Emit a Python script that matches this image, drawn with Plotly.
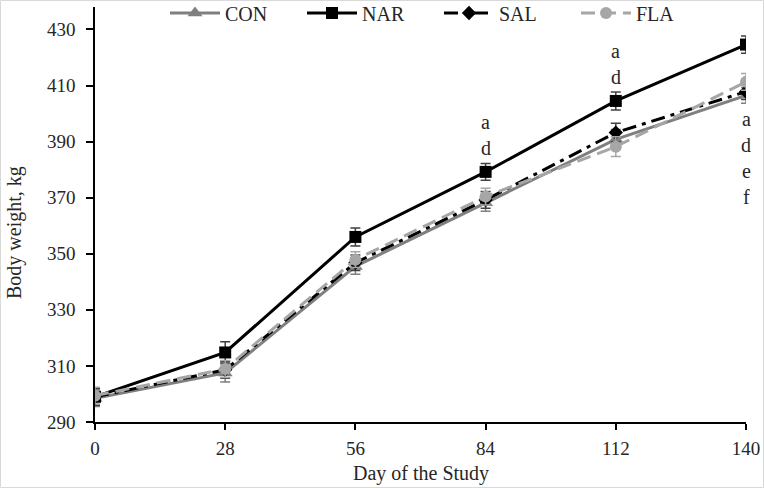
import plotly.graph_objects as go

days = [0, 28, 56, 84, 112, 140]
tick_labels = ["0", "28", "56", "84", "112", "140"]
CON = [298.5, 307.5, 345.5, 368.2, 390.8, 406.5]
NAR = [299.0, 314.8, 356.0, 379.2, 404.5, 424.6]
SAL = [299.0, 308.6, 346.8, 369.2, 393.2, 407.8]
FLA = [299.4, 308.9, 347.9, 370.4, 388.2, 411.3]
CON_se = [3.0, 3.2, 2.8, 3.0, 3.5, 2.8]
NAR_se = [3.0, 3.8, 3.2, 3.0, 3.2, 3.1]
SAL_se = [3.0, 3.0, 2.8, 3.0, 3.3, 2.8]
FLA_se = [3.0, 3.0, 2.8, 3.0, 3.5, 3.0]
# significance letters: day -> letters
sig_above = {84: ["a", "d"], 112: ["a", "d"]}
sig_below = {140: ["a", "d", "e", "f"]}

font_family = "Liberation Serif"
txt = "#262626"

fig = go.Figure()

def add(name, y, se, color, dash, symbol, msize, ecolor):
    fig.add_trace(go.Scatter(
        x=days, y=y, name=name, mode="lines+markers",
        line=dict(color=color, width=3, dash=dash),
        marker=dict(symbol=symbol, size=msize, color=color),
        error_y=dict(type="data", array=se, visible=True, color=ecolor,
                     thickness=1.5, width=5),
    ))

add("CON", CON, CON_se, "#7f7f7f", "solid", "triangle-up", 13, "#7f7f7f")
add("NAR", NAR, NAR_se, "#000000", "solid", "square", 12, "#404040")
add("SAL", SAL, SAL_se, "#000000", "14px,6px,4px,6px", "diamond", 11, "#404040")
add("FLA", FLA, FLA_se, "#a6a6a6", "14px,7px", "circle", 12, "#a6a6a6")

# annotations
for d, letters in sig_above.items():
    i = days.index(d)
    n = len(letters)
    for k, L in enumerate(letters):
        fig.add_annotation(x=d, y=NAR[i], text=L, showarrow=False,
                           yanchor="middle", yshift=24 + (n - 1 - k) * 26,
                           font=dict(family=font_family, size=20, color=txt))
for d, letters in sig_below.items():
    i = days.index(d)
    low = min(CON[i], SAL[i], FLA[i], NAR[i])
    for k, L in enumerate(letters):
        fig.add_annotation(x=d, y=low, text=L, showarrow=False,
                           yanchor="middle", yshift=-24 - k * 26,
                           font=dict(family=font_family, size=20, color=txt))

W, H = 764, 488
ml, mr, mt, mb = 95, 18, 7, 66
pw = W - ml - mr
ph = H - mt - mb

def px_x(p):
    return (p - ml) / pw

def px_y(p):
    return (H - mb - p) / ph

fig.update_layout(
    width=W, height=H,
    margin=dict(l=ml, r=mr, t=mt, b=mb, autoexpand=False),
    paper_bgcolor="white", plot_bgcolor="white",
    font=dict(family=font_family, size=19, color=txt),
    showlegend=True,
    legend=dict(orientation="h", x=px_x(165), xanchor="left", y=px_y(13),
                yanchor="middle", bgcolor="rgba(255,255,255,0)",
                font=dict(family=font_family, size=20, color=txt),
                itemwidth=50, entrywidth=72, traceorder="normal"),
    xaxis=dict(range=[0, 140], tickvals=days, ticktext=tick_labels,
               showline=True, linecolor="black", linewidth=1.5,
               ticks="outside", ticklen=6, tickcolor="black", tickwidth=1.5,
               showgrid=False, zeroline=False, automargin=False,
               ticklabelstandoff=2,
               tickfont=dict(family=font_family, size=19, color=txt)),
    yaxis=dict(range=[290, 438], tick0=290, dtick=20,
               showline=True, linecolor="black", linewidth=1.5,
               ticks="outside", ticklen=7, tickcolor="black", tickwidth=1.5,
               showgrid=False, zeroline=False, automargin=False,
               ticklabelstandoff=7,
               tickfont=dict(family=font_family, size=19, color=txt)),
)

fig.add_annotation(xref="paper", yref="paper", x=0.5, y=px_y(473),
                   text="Day of the Study", showarrow=False,
                   xanchor="center", yanchor="middle",
                   font=dict(family=font_family, size=20, color=txt))
fig.add_annotation(xref="paper", yref="paper", x=px_x(15), y=px_y(233),
                   text="Body weight, kg", showarrow=False, textangle=-90,
                   xanchor="center", yanchor="middle",
                   font=dict(family=font_family, size=20, color=txt))

# outer frame
fig.add_shape(type="rect", xref="paper", yref="paper",
              x0=px_x(0.5), x1=px_x(W - 0.5),
              y0=px_y(H - 0.5), y1=px_y(0.5),
              line=dict(color="#d9d9d9", width=1), layer="below")

fig.write_html("out.html", config={"displayModeBar": False},
               post_script="document.body.style.margin='0';")
